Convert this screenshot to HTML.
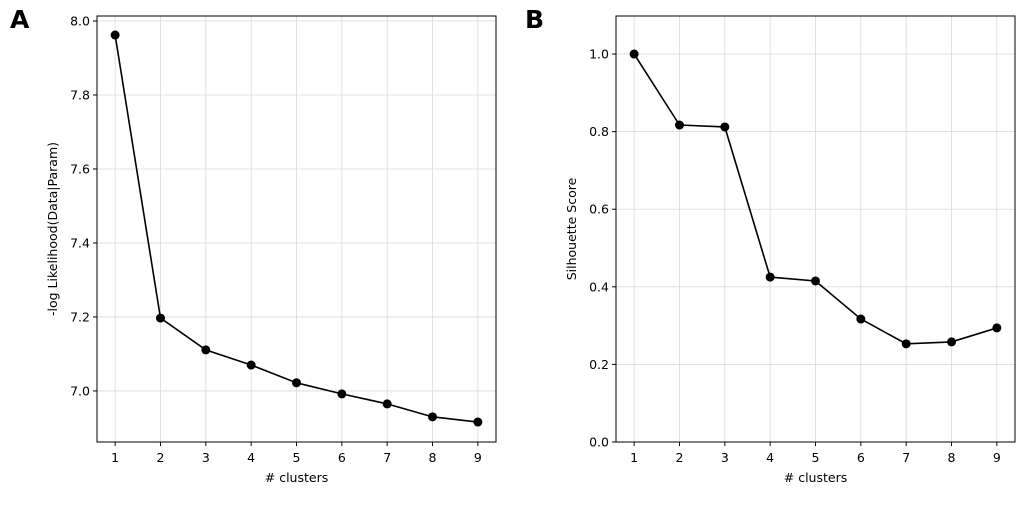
<!DOCTYPE html>
<html><head><meta charset="utf-8"><style>
body{margin:0;background:#fff;}
svg text{font-family:"DejaVu Sans","Liberation Sans",sans-serif;fill:#000;}
</style></head><body>
<svg id="c" width="1030" height="500" xmlns="http://www.w3.org/2000/svg"></svg>
<script>
const clustersA = [1,2,3,4,5,6,7,8,9];
const likelihoodValues = [7.962,7.197,7.111,7.070,7.022,6.992,6.965,6.930,6.916];
const yTicksA = [7.0,7.2,7.4,7.6,7.8,8.0];
const clustersB = [1,2,3,4,5,6,7,8,9];
const silhouetteValues = [1.0,0.817,0.812,0.425,0.415,0.317,0.253,0.258,0.294];
const yTicksB = [0.0,0.2,0.4,0.6,0.8,1.0];
const xTicks = [1,2,3,4,5,6,7,8,9];

const svg=document.getElementById('c');
const NS='http://www.w3.org/2000/svg';
function mk(tag,attrs,parent){const e=document.createElementNS(NS,tag);for(const k in attrs)e.setAttribute(k,attrs[k]);(parent||svg).appendChild(e);return e;}

function panel(p){
  const g=mk('g',{});
  
  
  const sx=v=>p.x0+(v-p.xmin)/(p.xmax-p.xmin)*(p.x1-p.x0);
  const sy=v=>p.y1-(v-p.ymin)/(p.ymax-p.ymin)*(p.y1-p.y0);
  xTicks.forEach(t=>{
    const l=mk('line',{x1:sx(t),x2:sx(t),y1:p.y0,y2:p.y1,stroke:'#d9d9d9','stroke-width':0.8},g);
    
    mk('line',{x1:sx(t),x2:sx(t),y1:p.y1,y2:p.y1+4,stroke:'#000'},g);
    const tx=mk('text',{x:sx(t),y:p.y1+20,'text-anchor':'middle','font-size':12.5},g);
    tx.textContent=t;
  });
  p.yt.forEach(t=>{
    const l=mk('line',{x1:p.x0,x2:p.x1,y1:sy(t),y2:sy(t),stroke:'#d9d9d9','stroke-width':0.8},g);
    
    mk('line',{x1:p.x0-4,x2:p.x0,y1:sy(t),y2:sy(t),stroke:'#000'},g);
    const tx=mk('text',{x:p.x0-7,y:sy(t)+4.5,'text-anchor':'end','font-size':12.5},g);
    tx.textContent=t.toFixed(1);
  });
  const r=mk('rect',{x:p.x0,y:p.y0,width:p.x1-p.x0,height:p.y1-p.y0,fill:'none',stroke:'#000','stroke-width':1},g);
  
  const pts=p.xs.map((x,i)=>sx(x)+','+sy(p.ys[i])).join(' ');
  const pl=mk('polyline',{points:pts,fill:'none',stroke:'#000','stroke-width':1.6},g);
  
  p.xs.forEach((x,i)=>{
    const c=mk('circle',{cx:sx(x),cy:sy(p.ys[i]),r:4.5,fill:'#000'},g);
    
  });
  const xl=mk('text',{x:(p.x0+p.x1)/2,y:482,'text-anchor':'middle','font-size':12.5},g);
  xl.textContent='# clusters';
  const yl=mk('text',{x:0,y:0,'text-anchor':'middle','font-size':12.5,transform:`translate(${p.ylx},${(p.y0+p.y1)/2}) rotate(-90)`},g);
  yl.textContent=p.ylabel;
  const lt=mk('text',{x:p.lx,y:28,'font-size':25,'font-weight':'bold'},g);
  lt.textContent=p.letter;
}
panel({name:'panel-a',x0:97,x1:496,y0:16,y1:442,xmin:0.6,xmax:9.4,ymin:6.862,ymax:8.0135,
  xs:clustersA,ys:likelihoodValues,yt:yTicksA,ylabel:'-log Likelihood(Data|Param)',ylx:57,letter:'A',lx:10});
panel({name:'panel-b',x0:616,x1:1015,y0:16,y1:442,xmin:0.6,xmax:9.4,ymin:0,ymax:1.098,
  xs:clustersB,ys:silhouetteValues,yt:yTicksB,ylabel:'Silhouette Score',ylx:576,letter:'B',lx:525});
</script>
</body></html>
